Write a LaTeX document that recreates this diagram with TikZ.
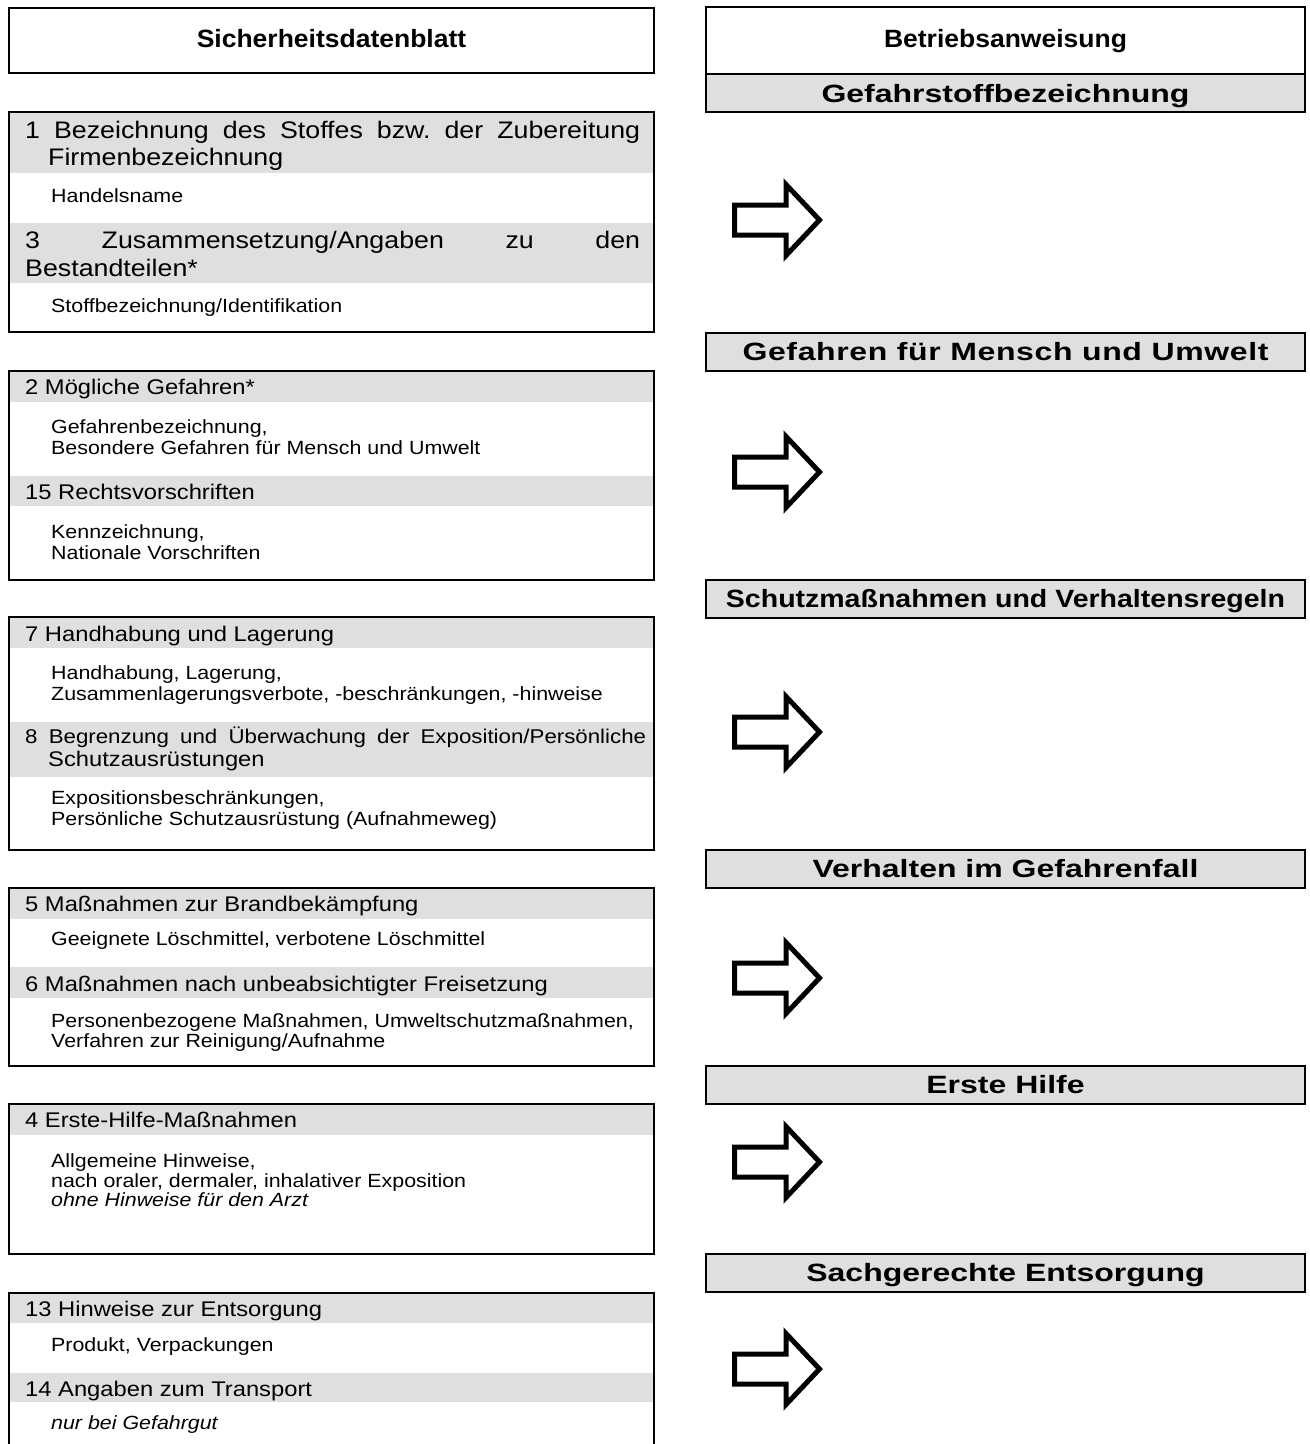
\documentclass[tikz,border=0pt]{standalone}
\usepackage{fontspec}
\setmainfont{Liberation Sans}[FakeStretch=1.12]
\newfontfamily\titlef{Liberation Sans}[FakeStretch=1.06]
\newfontfamily\headf{Liberation Sans}[FakeStretch=1.28]
\newfontfamily\headfn{Liberation Sans}[FakeStretch=1.14]
\definecolor{bandgray}{RGB}{223,223,223}
\frenchspacing
\newcommand\hdrA{\fontsize{23.9}{29}\selectfont}
\newcommand\hdrB{\fontsize{21.2}{23}\selectfont}
\newcommand\hdrC{\fontsize{19.9}{23}\selectfont}
\newcommand\bodyf{\fontsize{19.1}{20.5}\selectfont}
\newcommand\titlefont{\titlef\bfseries\fontsize{25}{30}\selectfont}
\newcommand\headfont{\headf\bfseries\fontsize{25}{28}\selectfont}
\newcommand\headfontw{\headfont\addfontfeature{LetterSpace=2.5}}
\newcommand\headfontn{\headfn\bfseries\fontsize{25}{28}\selectfont}
\newcommand\blockarrow[1]{\draw[blockarrow] (#1) ++(0,-15) -- ++(51.5,0) -- ++(0,-20.5) -- ++(33.5,35.5) -- ++(-33.5,35.5) -- ++(0,-20.5) -- ++(-51.5,0) -- cycle;}
\tikzset{
 lbox/.style={draw, line width=2pt, inner sep=0pt, outer sep=0pt, anchor=north west, minimum width=645pt},
 lband/.style={fill=bandgray, inner sep=0pt, outer sep=0pt, anchor=north west, minimum width=645pt},
 rbox/.style={draw, line width=2pt, inner sep=0pt, outer sep=0pt, anchor=north west, minimum width=599pt},
 rband/.style={rbox, fill=bandgray, minimum height=38pt},
 hA/.style={anchor=base west, inner sep=0pt, font=\hdrA},
 hB/.style={anchor=base west, inner sep=0pt, font=\hdrB},
 hC/.style={anchor=base west, inner sep=0pt, font=\hdrC},
 bd/.style={anchor=base west, inner sep=0pt, font=\bodyf},
 bdi/.style={bd, font=\bodyf\itshape},
 ttl/.style={anchor=base, inner sep=0pt, font=\titlefont},
 hd/.style={anchor=base, inner sep=0pt, font=\headfont},
 hdw/.style={anchor=base, inner sep=0pt, font=\headfontw},
 hdn/.style={anchor=base, inner sep=0pt, font=\headfontn},
 blockarrow/.style={draw, line width=5pt, miter limit=10, line join=miter, fill=white},
}
\begin{document}
\begin{tikzpicture}[x=1pt,y=-1pt]
\useasboundingbox[fill=white] (0,0) rectangle (1310,1444);

% ---------------- left column ----------------
\node[lbox, minimum height=65pt] (sdb) at (9,8) {};
\node[ttl] (sdbt) at (331.5,47) {Sicherheitsdatenblatt};

% box A
\node[lband, minimum height=61pt] (a1) at (9,112) {};
\node[lband, minimum height=60pt] (a2) at (9,223) {};
\node[lbox, minimum height=220pt] (boxA) at (9,112) {};
\node[hA] (a1t1) at (25,138) {\makebox[615pt][s]{1 Bezeichnung des Stoffes bzw. der Zubereitung}};
\node[hA] (a1t2) at (48,165) {Firmenbezeichnung};
\node[bd] (a1b) at (51,202) {Handelsname};
\node[hA] (a2t1) at (25,248) {\makebox[615pt][s]{3 Zusammensetzung/Angaben zu den}};
\node[hA] (a2t2) at (25,276) {Bestandteilen*};
\node[bd] (a2b) at (51,312) {Stoffbezeichnung/Identifikation};

% box B
\node[lband, minimum height=31pt] (b1) at (9,371) {};
\node[lband, minimum height=30pt] (b2) at (9,476) {};
\node[lbox, minimum height=209pt] (boxB) at (9,371) {};
\node[hB] (b1t) at (25,394) {2 Mögliche Gefahren*};
\node[bd] (b1b1) at (51,433.5) {Gefahrenbezeichnung,};
\node[bd] (b1b2) at (51,454) {Besondere Gefahren für Mensch und Umwelt};
\node[hB] (b2t) at (25,499) {15 Rechtsvorschriften};
\node[bd] (b2b1) at (51,538.5) {Kennzeichnung,};
\node[bd] (b2b2) at (51,559) {Nationale Vorschriften};

% box C
\node[lband, minimum height=31pt] (c1) at (9,617) {};
\node[lband, minimum height=55pt] (c2) at (9,722) {};
\node[lbox, minimum height=233pt] (boxC) at (9,617) {};
\node[hB] (c1t) at (25,641) {7 Handhabung und Lagerung};
\node[bd] (c1b1) at (51,679) {Handhabung, Lagerung,};
\node[bd] (c1b2) at (51,700) {Zusammenlagerungsverbote, -beschränkungen, -hinweise};
\node[hC] (c2t1) at (25,743) {\makebox[621pt][s]{8 Begrenzung und Überwachung der Exposition/Persönliche}};
\node[hB] (c2t2) at (48,766) {Schutzausrüstungen};
\node[bd] (c2b1) at (51,804) {Expositionsbeschränkungen,};
\node[bd] (c2b2) at (51,825) {Persönliche Schutzausrüstung (Aufnahmeweg)};

% box D
\node[lband, minimum height=31pt] (d1) at (9,888) {};
\node[lband, minimum height=31pt] (d2) at (9,967) {};
\node[lbox, minimum height=178pt] (boxD) at (9,888) {};
\node[hB] (d1t) at (25,911) {5 Maßnahmen zur Brandbekämpfung};
\node[bd] (d1b) at (51,945) {Geeignete Löschmittel, verbotene Löschmittel};
\node[hB] (d2t) at (25,991) {6 Maßnahmen nach unbeabsichtigter Freisetzung};
\node[bd] (d2b1) at (51,1027) {Personenbezogene Maßnahmen, Umweltschutzmaßnahmen,};
\node[bd] (d2b2) at (51,1047) {Verfahren zur Reinigung/Aufnahme};

% box E
\node[lband, minimum height=31pt] (e1) at (9,1104) {};
\node[lbox, minimum height=150pt] (boxE) at (9,1104) {};
\node[hB] (e1t) at (25,1127) {4 Erste-Hilfe-Maßnahmen};
\node[bd] (e1b1) at (51,1167) {Allgemeine Hinweise,};
\node[bd] (e1b2) at (51,1187) {nach oraler, dermaler, inhalativer Exposition};
\node[bdi] (e1b3) at (51,1206) {ohne Hinweise für den Arzt};

% box F
\node[lband, minimum height=30pt] (f1) at (9,1293) {};
\node[lband, minimum height=29pt] (f2) at (9,1373) {};
\node[lbox, minimum height=175pt] (boxF) at (9,1293) {};
\node[hB] (f1t) at (25,1316) {13 Hinweise zur Entsorgung};
\node[bd] (f1b) at (51,1351) {Produkt, Verpackungen};
\node[hB] (f2t) at (25,1396) {14 Angaben zum Transport};
\node[bdi] (f2b) at (51,1429) {nur bei Gefahrgut};

% ---------------- right column ----------------
\node[rbox, minimum height=67pt] (ba) at (706,7) {};
\node[ttl] (bat) at (1005.5,47) {Betriebsanweisung};
\node[rband] (g1) at (706,74) {};
\node[hd] (g1t) at (1005.5,102) {Gefahrstoffbezeichnung};
\node[rband] (g2) at (706,333) {};
\node[hdw] (g2t) at (1005.5,360) {Gefahren für Mensch und Umwelt};
\node[rband] (g3) at (706,580) {};
\node[hdn] (g3t) at (1005.5,607) {Schutzmaßnahmen und Verhaltensregeln};
\node[rband] (g4) at (706,850) {};
\node[hd] (g4t) at (1005.5,877) {Verhalten im Gefahrenfall};
\node[rband] (g5) at (706,1066) {};
\node[hd] (g5t) at (1005.5,1093) {Erste Hilfe};
\node[rband] (g6) at (706,1254) {};
\node[hd] (g6t) at (1005.5,1281) {Sachgerechte Entsorgung};

% block arrows
\coordinate (ar1) at (734.5,220);
\coordinate (ar2) at (734.5,472);
\coordinate (ar3) at (734.5,732);
\coordinate (ar4) at (734.5,978);
\coordinate (ar5) at (734.5,1162);
\coordinate (ar6) at (734.5,1369);
\blockarrow{ar1}
\blockarrow{ar2}
\blockarrow{ar3}
\blockarrow{ar4}
\blockarrow{ar5}
\blockarrow{ar6}
\end{tikzpicture}
\end{document}
